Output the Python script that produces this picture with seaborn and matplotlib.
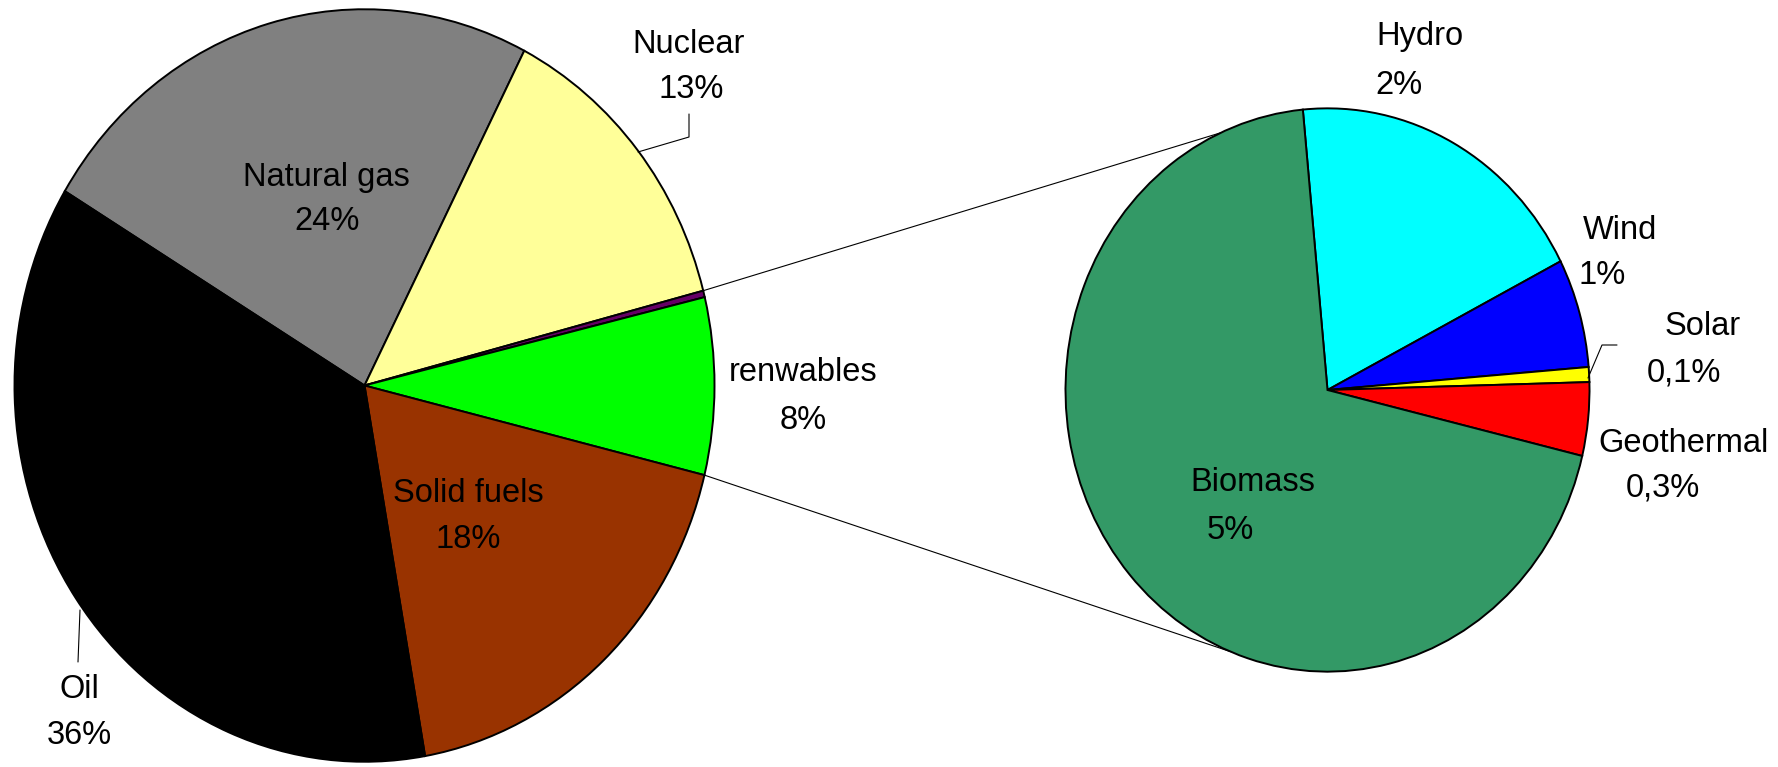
import numpy as np
import matplotlib
matplotlib.use("Agg")
import matplotlib.pyplot as plt
import seaborn as sns

# ---- data ----
main_labels = ["Natural gas", "Nuclear", "Other", "renwables", "Solid fuels", "Oil"]
main_values = [23.9, 13.4, 0.28, 7.6, 18.4, 36.4]
main_pct = ["24%", "13%", "", "8%", "18%", "36%"]
main_colors = ["#808080", "#FFFF99", "#660066", "#00FF00", "#993300", "#000000"]

ren_labels = ["Hydro", "Wind", "Solar", "Geothermal", "Biomass"]
ren_values = [1.44, 0.475, 0.065, 0.32, 5.3]
ren_pct = ["2%", "1%", "0,1%", "0,3%", "5%"]
ren_colors = ["#00FFFF", "#0000FF", "#FFFF00", "#FF0000", "#339966"]

# ---- layout ----
W, H = 1778, 767
K = 1.075  # vertical stretch of the original picture

sns.set_theme(style="white")
plt.rcParams['font.family'] = ['Liberation Sans', 'DejaVu Sans']

fig = plt.figure(figsize=(W / 100, H / 100), dpi=100)
ax = fig.add_axes([0, 0, 1, 1])


def P(x, y):
    return (x, (H - y) / K)


c1 = P(364.5, 385.5)
r1 = 350
c2 = P(1327.5, 390)
r2 = 262

wp = dict(edgecolor="black", linewidth=1.4)
w1, _ = ax.pie(main_values, colors=sns.color_palette(main_colors), startangle=148.9,
               counterclock=False, center=c1, radius=r1, wedgeprops=wp)
w2, _ = ax.pie(ren_values, colors=sns.color_palette(ren_colors), startangle=95.4,
               counterclock=False, center=c2, radius=r2, wedgeprops=wp)
ax.set_aspect("auto")
ax.set_xlim(0, W)
ax.set_ylim(0, H / K)
ax.axis("off")


def edge(c, r, ang):
    a = np.deg2rad(ang)
    return (c[0] + r * np.cos(a), c[1] + r * np.sin(a))


# connector lines between the two pies
p_top = edge(c1, r1, w1[1].theta1)
p_bot = edge(c1, r1, w1[3].theta1)
q_top = edge(c2, r2, 114)
q_bot = edge(c2, r2, -111.7)
for p, q in [(p_top, q_top), (p_bot, q_bot)]:
    ax.plot([p[0], q[0]], [p[1], q[1]], color="black", lw=0.8, zorder=0)

# leader lines
leaders = [
    [(689, 114), (689, 137), (638, 152)],
    [(78, 662), (80, 610)],
    [(1588, 378), (1602, 345), (1617, 345)],
]
for pts in leaders:
    xs, ys = zip(*[P(*pt) for pt in pts])
    ax.plot(xs, ys, color="black", lw=0.8)

# label positions (name centre, value centre) in pixels
main_pos = {
    "Natural gas": ((326, 174), (327, 218)),
    "Nuclear": ((689, 41), (691, 86)),
    "renwables": ((803, 369), (803, 417)),
    "Solid fuels": ((468, 490), (468, 536)),
    "Oil": ((79, 686), (79, 732)),
}
ren_pos = {
    "Hydro": ((1420, 33), (1399, 82)),
    "Wind": ((1620, 227), (1602, 272)),
    "Solar": ((1703, 323), (1684, 370)),
    "Geothermal": ((1683, 440), (1663, 485)),
    "Biomass": ((1253, 479), (1230, 527)),
}

FS = 23.5
OFF = 11.7
for names, pcts, pos in [(main_labels, main_pct, main_pos), (ren_labels, ren_pct, ren_pos)]:
    for name, pct in zip(names, pcts):
        if name not in pos:
            continue
        (nx, ny), (vx, vy) = pos[name]
        ax.text(*P(nx, ny + OFF), name, ha="center", va="baseline", fontsize=FS, color="black")
        ax.text(*P(vx, vy + OFF), pct, ha="center", va="baseline", fontsize=FS, color="black")

fig.savefig("out.png", dpi=100, facecolor="white")
